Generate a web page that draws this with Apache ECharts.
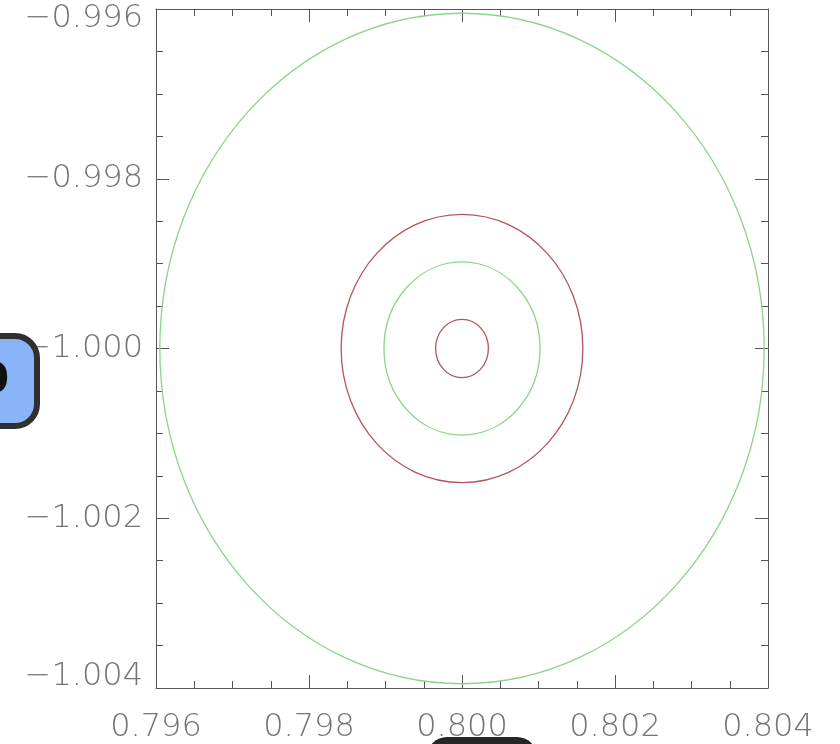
<!DOCTYPE html>
<html>
<head>
<meta charset="utf-8">
<style>html,body{margin:0;padding:0;background:#fff;}#chart{width:840px;height:744px;}</style>
<script src="https://cdn.jsdelivr.net/npm/echarts@6/dist/echarts.min.js"></script>
</head>
<body>
<div id="chart"></div>
<script>
// Contour rings (centre and radius in data units)
const ringCenterX = [0.8, 0.8, 0.8, 0.8];
const ringCenterY = [-1.0, -1.0, -1.0, -1.0];
const ringRadiusX = [0.00395, 0.00158, 0.00102, 0.000345];
const ringRadiusY = [0.00395, 0.00158, 0.00102, 0.000343];
const ringColor = ['#86d886', '#b85555', '#86d886', '#b85555'];

const xTicks = [0.796, 0.798, 0.800, 0.802, 0.804];
const yTicks = [-1.004, -1.002, -1.000, -0.998, -0.996];

const fmt = v => v.toFixed(3).replace('-', '\u2212');
const labelFont = {fontFamily: 'DejaVu Sans', fontSize: 32, fontWeight: 200, color: '#757575'};

const chart = echarts.init(document.getElementById('chart'), null, {renderer: 'canvas'});

const axisCommon = {
  type: 'value',
  axisLine: {show: true, lineStyle: {color: '#555', width: 1}},
  axisTick: {show: true, inside: true, length: 13, lineStyle: {color: '#555', width: 1}},
  minorTick: {show: true, splitNumber: 4, length: 7, lineStyle: {color: '#555', width: 1}},
  splitLine: {show: false},
  minorSplitLine: {show: false}
};

const option = {
  animation: false,
  backgroundColor: '#fff',
  grid: {left: 156, right: 72, top: 9, bottom: 55, containLabel: false},
  xAxis: [
    Object.assign({}, axisCommon, {
      position: 'bottom', min: xTicks[0], max: xTicks[xTicks.length - 1], interval: 0.002,
      axisLabel: Object.assign({margin: 24, formatter: v => fmt(v)}, labelFont)
    }),
    Object.assign({}, axisCommon, {
      position: 'top', min: xTicks[0], max: xTicks[xTicks.length - 1], interval: 0.002,
      axisLabel: {show: false}
    })
  ],
  yAxis: [
    Object.assign({}, axisCommon, {
      position: 'left', min: yTicks[0], max: yTicks[yTicks.length - 1], interval: 0.002,
      axisLabel: Object.assign({
        margin: 13,
        formatter: v => {
          const s = fmt(v);
          if (Math.abs(v - yTicks[yTicks.length - 1]) < 1e-9) return '{t|' + s + '}';
          if (Math.abs(v - yTicks[0]) < 1e-9) return '{b|' + s + '}';
          return s;
        },
        rich: {
          t: Object.assign({padding: [19, 0, 0, 0]}, labelFont),
          b: Object.assign({padding: [0, 0, 22, 0]}, labelFont)
        }
      }, labelFont)
    }),
    Object.assign({}, axisCommon, {
      position: 'right', min: yTicks[0], max: yTicks[yTicks.length - 1], interval: 0.002,
      axisLabel: {show: false}
    })
  ],
  series: [{
    type: 'custom',
    xAxisIndex: 0,
    yAxisIndex: 0,
    clip: true,
    data: ringCenterX.map((cx, i) => [cx, ringCenterY[i], ringRadiusX[i], ringRadiusY[i], i]),
    renderItem: (params, api) => {
      const c = api.coord([api.value(0), api.value(1)]);
      const s = api.size([api.value(2), api.value(3)]);
      const idx = api.value(4);
      return {
        type: 'ellipse',
        shape: {cx: c[0], cy: c[1], rx: s[0], ry: s[1]},
        style: {fill: 'none', stroke: ringColor[idx], lineWidth: 1.3}
      };
    }
  }],
  graphic: [
    {type: 'rect', z: 100, shape: {x: -43, y: 336, width: 80, height: 90, r: 22},
     style: {fill: '#8ab4f8', stroke: '#303030', lineWidth: 6}},
    {type: 'text', z: 101, x: 9, y: 382,
     style: {text: '0', fill: '#111', fontSize: 40, fontWeight: 'bold', fontFamily: 'DejaVu Sans', align: 'right', verticalAlign: 'middle'}},
    {type: 'rect', z: 100, shape: {x: 427, y: 737, width: 110, height: 40, r: 20},
     style: {fill: '#262626'}}
  ]
};
chart.setOption(option);
</script>
</body>
</html>
